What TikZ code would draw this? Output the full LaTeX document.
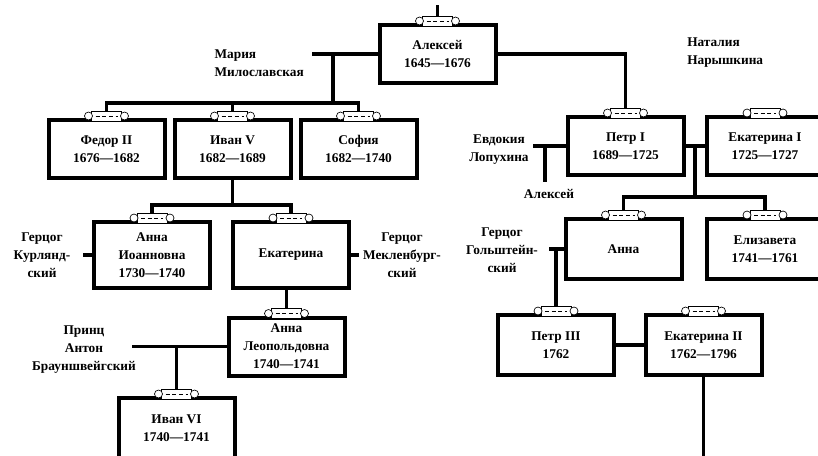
\documentclass[tikz,border=0pt]{standalone}
\usepackage{fontspec}
\setmainfont{Liberation Serif}
\usetikzlibrary{positioning}
\newcommand\famfont{\bfseries\fontsize{10}{13.5}\selectfont}
\tikzset{
  basic/.style  = {draw, line width=3pt, font=\famfont, align=center,
                   inner sep=0pt, outer sep=0pt, fill=white},
  ruler/.style  = {basic, minimum width=87pt, minimum height=43.5pt},
  tall/.style   = {ruler, minimum height=49.5pt},
  mid/.style    = {ruler, minimum height=45pt},
  spouse/.style = {font=\famfont, align=center, inner sep=0pt},
  link/.style   = {line width=2.6pt},
  scroll/.pic   = {
    \draw[line width=0.5pt, fill=white] (-15,-9) rectangle (15,1);
    \draw[line width=0.5pt, fill=white] (-18,-4) circle [radius=4];
    \draw[line width=0.5pt, fill=white] (18,-4) circle [radius=4];
    \draw[line width=0.4pt, densely dashed] (-11,-4) -- (11,-4);
  }
}
\begin{document}
\begin{tikzpicture}[x=0.75pt,y=-0.75pt]
\useasboundingbox (0,0) rectangle (818,455);

% rulers
\node[ruler] (alexey) at (437.5,54) {Алексей\\1645---1676};
\node[ruler] (fedor) at (106.5,149) {Федор II\\1676---1682};
\node[ruler, right=7.5pt of fedor] (ivanV) {Иван V\\1682---1689};
\node[ruler, right=7.5pt of ivanV] (sofia) {София\\1682---1740};
\node[tall] (annaI) at (152,255) {Анна\\Иоанновна\\1730---1740};
\node[tall] (ekaterina) at (291,255) {Екатерина};
\node[ruler] (annaL) at (286.5,346.5) {Анна\\Леопольдовна\\1740---1741};
\node[mid] (ivanVI) at (176.5,428) {Иван VI\\1740---1741};
\node[ruler] (peterI) at (625.5,146) {Петр I\\1689---1725};
\node[ruler] (ekatI) at (765,146) {Екатерина I\\1725---1727};
\node[mid] (annaR) at (623.5,249) {Анна};
\node[mid] (elizaveta) at (765,249) {Елизавета\\1741---1761};
\node[mid] (peterIII) at (556,345) {Петр III\\1762};
\node[mid] (ekatII) at (703.5,345) {Екатерина II\\1762---1796};

% spouses
\node[spouse, anchor=east, align=left] (maria) at (304,63) {Мария\\Милославская};
\node[spouse, anchor=west, align=left] (natalia) at (687,53) {Наталия\\Нарышкина};
\node[spouse] (evdokia) at (499,150) {Евдокия\\Лопухина};
\node[spouse] (alexeyJr) at (549,194) {Алексей};
\node[spouse] (kurland) at (42,255) {Герцог\\Курлянд-\\ский};
\node[spouse] (meckl) at (402,255) {Герцог\\Мекленбург-\\ский};
\node[spouse] (holst) at (502,250) {Герцог\\Гольштейн-\\ский};
\node[spouse] (anton) at (84,350) {Принц\\Антон\\Брауншвейгский};

% free ends
\coordinate (topEnd) at (437.5,5);
\coordinate (mariaEnd) at (312,54);
\coordinate (mariaKids) at (333,54);
\coordinate (kidsBar) at (333,103);
\coordinate (ivanBar) at (231,205);
\coordinate (kurlEnd) at (83,255);
\coordinate (mecklEnd) at (359,255);
\coordinate (antonEnd) at (132,346.5);
\coordinate (antonKid) at (176.5,346.5);
\coordinate (evdEnd) at (533,146);
\coordinate (evdKid) at (545,146);
\coordinate (alexeyJrEnd) at (545,182);
\coordinate (peterKids) at (695,146);
\coordinate (peterBar) at (695,197);
\coordinate (holstEnd) at (549,249);
\coordinate (ekatEnd) at (703.5,462);

% left branch
\draw[link] (topEnd) -- (alexey.north);
\draw[link] (alexey.west) -- (mariaEnd);
\draw[link] (mariaKids) -- (kidsBar);
\draw[link] (fedor.north) |- (kidsBar) -| (sofia.north);
\draw[link] (ivanV.north) -- (ivanV.north |- kidsBar);
\draw[link] (ivanV.south) -- (ivanV.south |- ivanBar);
\draw[link] (annaI.north) |- (ivanBar) -| (ekaterina.north);
\draw[link] (annaI.west) -- (kurlEnd);
\draw[link] (ekaterina.east) -- (mecklEnd);
\draw[link] (annaL.north) -- (annaL.north |- ekaterina.south);
\draw[link] (annaL.west) -- (antonEnd);
\draw[link] (antonKid) -- (ivanVI.north);

% right branch
\draw[link] (alexey.east) -| (peterI.north);
\draw[link] (peterI.west) -- (evdEnd);
\draw[link] (evdKid) -- (alexeyJrEnd);
\draw[link] (peterI.east) -- (ekatI.west);
\draw[link] (peterKids) -- (peterBar);
\draw[link] (annaR.north) |- (peterBar) -| (elizaveta.north);
\draw[link] (annaR.west) -| (peterIII.north);
\draw[link] (annaR.west) -- (holstEnd);
\draw[link] (peterIII.east) -- (ekatII.west);
\draw[link] (ekatII.south) -- (ekatEnd);

\foreach \who in {alexey,fedor,ivanV,sofia,annaI,ekaterina,annaL,ivanVI,
                  peterI,ekatI,annaR,elizaveta,peterIII,ekatII}
  \pic at (\who.north) {scroll};

\end{tikzpicture}
\end{document}
